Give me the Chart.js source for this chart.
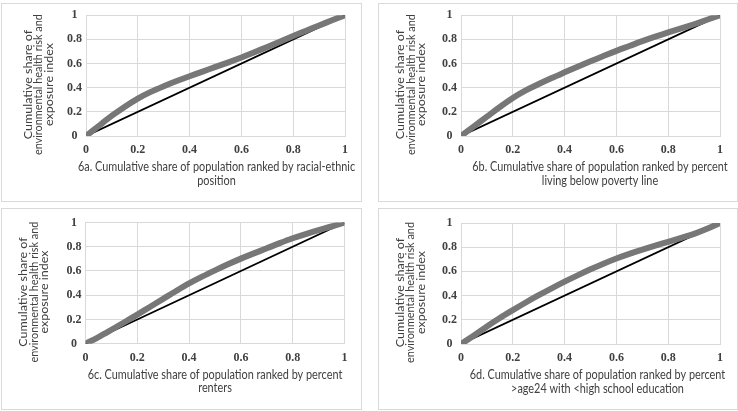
<!DOCTYPE html>
<html>
<head>
<meta charset="utf-8">
<script src="https://cdn.jsdelivr.net/npm/chart.js@4/dist/chart.umd.min.js"></script>
<style>
  body { margin: 0; background: #fff; }
  #page { position: relative; width: 738px; height: 411px; overflow: hidden; }
  .panel { position: absolute; box-sizing: border-box; border: 1px solid #d9d9d9; background: #fff; }
  .panel canvas { display: block; }
</style>
</head>
<body>
<div id="page"></div>
<script>
// Cumulative share of population (x) shared by every panel
const popShare = [0, 0.05, 0.1, 0.15, 0.2, 0.25, 0.3, 0.35, 0.4, 0.45, 0.5,
  0.55, 0.6, 0.65, 0.7, 0.75, 0.8, 0.85, 0.9, 0.95, 1]

// Cumulative share of environmental health risk and exposure index (y)
const racialEthnic = [0, 0.085, 0.168, 0.243, 0.31, 0.365, 0.412, 0.455, 0.495, 0.533, 0.572,
  0.61, 0.65, 0.693, 0.737, 0.782, 0.828, 0.872, 0.915, 0.958, 1]
const poverty = [0, 0.08, 0.16, 0.24, 0.315, 0.378, 0.43, 0.48, 0.527, 0.573, 0.618,
  0.662, 0.705, 0.745, 0.785, 0.822, 0.857, 0.89, 0.925, 0.962, 1]
const renters = [0, 0.055, 0.115, 0.177, 0.24, 0.305, 0.37, 0.435, 0.497, 0.553, 0.605,
  0.655, 0.702, 0.745, 0.787, 0.83, 0.87, 0.905, 0.937, 0.967, 1]
const lowEducation = [0, 0.07, 0.145, 0.215, 0.28, 0.343, 0.403, 0.46, 0.515, 0.567, 0.617,
  0.664, 0.707, 0.745, 0.78, 0.813, 0.845, 0.877, 0.91, 0.952, 1]

// equality line
const equalityX = [0, 1]
const equalityY = [0, 1]

const yTitle = ["Cumulative share of", "environmental health risk and", "exposure index"]
const xTitles = {
  a: ["6a. Cumulative share of population ranked by racial-ethnic", "position"],
  b: ["6b. Cumulative share of population ranked by percent", "living below poverty line"],
  c: ["6c. Cumulative share of population ranked by percent", "renters"],
  d: ["6d. Cumulative share of population ranked by percent", ">age24 with <high school education"],
}

// box / plot = [left, top, right, bottom] in page pixels
const panels = [
  { id: "a", values: racialEthnic, box: [1, 3, 361, 201], plot: [86, 14, 345, 136], yGap: 57.7, xShift: 1 },
  { id: "b", values: poverty, box: [378, 3, 737, 201], plot: [461, 14.5, 720, 136], yGap: 60.3, xShift: 9.5 },
  { id: "c", values: renters, box: [1, 208, 361, 409], plot: [85.5, 222.5, 344.5, 343.7], yGap: 61.8, xShift: 0 },
  { id: "d", values: lowEducation, box: [378, 208, 737, 409], plot: [461, 223, 720, 344], yGap: 61, xShift: 7 },
]

const textColor = "#404040"
const gridColor = "#d9d9d9"
const squeeze = 0.87 // the source image is narrowed horizontally

// draws the multi-line axis titles the way the original spreadsheet placed them
const axisTitles = {
  id: "axisTitles",
  afterDraw(chart, args, opts) {
    const { ctx, chartArea: a } = chart
    ctx.save()
    ctx.fillStyle = textColor
    ctx.textAlign = "center"
    ctx.textBaseline = "middle"
    ctx.font = "12.5px Lato"
    ctx.save()
    ctx.translate((a.left + a.right) / 2 + opts.xShift, a.bottom + 31)
    ctx.scale(squeeze, 1)
    opts.xLines.forEach((t, i) => ctx.fillText(t, 0, i * 13.5))
    ctx.restore()
    ctx.font = "12.5px Lato"
    ctx.translate(a.left - opts.yGap, (a.top + a.bottom) / 2 + 9)
    ctx.scale(squeeze, 1)
    ctx.rotate(-Math.PI / 2)
    opts.yLines.forEach((t, i) => ctx.fillText(t, 0, i * 10.5 / squeeze, 141))
    ctx.restore()
  },
}

const tickFont = { family: "'Liberation Serif', serif", size: 12, weight: "bold" }
const tickLabel = (v) => String(Number(v.toFixed(2)))

const page = document.getElementById("page")

panels.forEach((p) => {
  const [bl, bt, br, bb] = p.box
  const div = document.createElement("div")
  div.className = "panel"
  div.style.left = bl + "px"
  div.style.top = bt + "px"
  div.style.width = br - bl + 1 + "px"
  div.style.height = bb - bt + 1 + "px"
  const canvas = document.createElement("canvas")
  const cw = br - bl - 1
  const chh = bb - bt - 1
  canvas.width = cw
  canvas.height = chh
  div.appendChild(canvas)
  page.appendChild(div)

  // plot area relative to the canvas
  const left = p.plot[0] - (bl + 1)
  const top = p.plot[1] - (bt + 1)
  const right = cw - (p.plot[2] - (bl + 1))
  const bottom = chh - (p.plot[3] - (bt + 1))

  new Chart(canvas, {
    type: "scatter",
    data: {
      datasets: [
        {
          data: popShare.map((x, i) => ({ x, y: p.values[i] })),
          showLine: true,
          borderColor: "#777777",
          borderWidth: 6,
          borderCapStyle: "round",
          borderJoinStyle: "round",
          pointRadius: 0,
          tension: 0.35,
        },
        {
          data: equalityX.map((x, i) => ({ x, y: equalityY[i] })),
          showLine: true,
          borderColor: "#000",
          borderWidth: 1.8,
          pointRadius: 0,
        },
      ],
    },
    options: {
      responsive: false,
      animation: false,
      events: [],
      layout: { padding: { left: 0, top, right, bottom: 0 } },
      plugins: {
        legend: { display: false },
        tooltip: { enabled: false },
        axisTitles: { xLines: xTitles[p.id], yLines: yTitle, yGap: p.yGap, xShift: p.xShift },
      },
      scales: {
        x: {
          type: "linear",
          min: 0,
          max: 1,
          ticks: { stepSize: 0.2, padding: 7, color: textColor, font: tickFont, callback: tickLabel },
          grid: { color: gridColor, drawTicks: false },
          border: { color: gridColor },
          afterFit: (s) => { s.height = bottom },
        },
        y: {
          min: 0,
          max: 1,
          ticks: { stepSize: 0.2, padding: 4, crossAlign: "center", color: textColor, font: tickFont, callback: tickLabel },
          grid: { color: gridColor, drawTicks: false },
          border: { color: gridColor },
          afterFit: (s) => { s.width = left },
        },
      },
    },
    plugins: [axisTitles],
  })
})
</script>
</body>
</html>
